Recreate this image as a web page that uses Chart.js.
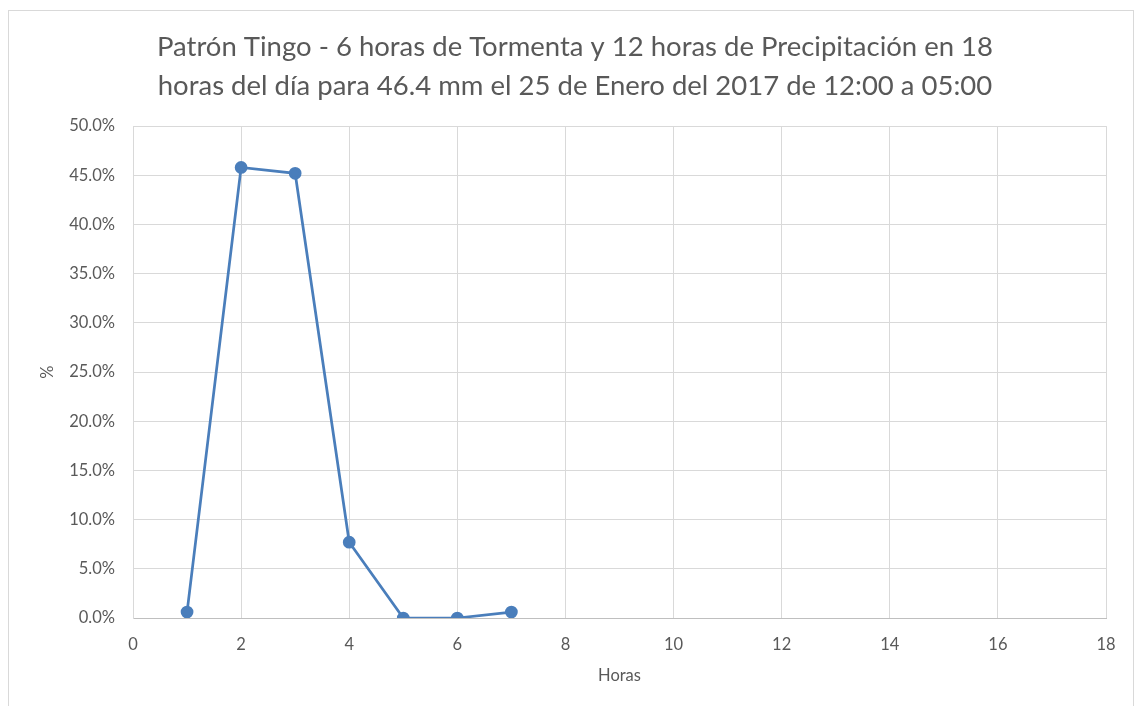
<!DOCTYPE html>
<html>
<head>
<meta charset="utf-8">
<script src="https://cdn.jsdelivr.net/npm/chart.js@4/dist/chart.umd.min.js"></script>
<style>
    html, body { margin: 0; padding: 0; background: #ffffff; }
    #wrap { position: relative; width: 1135px; height: 706px; }
</style>
</head>
<body>
<div id="wrap"><canvas id="patronGraph" width="1135" height="706"></canvas></div>
<script>
// Datos (porcentaje por hora)
const horas = [1, 2, 3, 4, 5, 6, 7];
const porcentaje = [0.6, 45.8, 45.2, 7.7, 0.0, 0.0, 0.6];
const tituloLineas = [
    'Patrón Tingo - 6 horas de Tormenta y 12 horas de Precipitación en 18',
    'horas del día para 46.4 mm el 25 de Enero del 2017 de 12:00 a 05:00'
];

const gris = '#595959';
const fuente = 'Lato, "Open Sans", sans-serif';

// Marco exterior del grafico (como en Excel)
const marco = {
    id: 'marco',
    beforeDraw(chart) {
        const c = chart.ctx;
        c.save();
        c.strokeStyle = '#d9d9d9';
        c.lineWidth = 1;
        c.strokeRect(8.5, 10.5, 1125, 720);
        c.restore();
    }
};

const ctx = document.getElementById('patronGraph').getContext('2d');
const patronGraph = new Chart(ctx, {
    type: 'scatter',
    data: {
        datasets: [{
            label: 'Patrón',
            data: horas.map((h, i) => ({ x: h, y: porcentaje[i] })),
            showLine: true,
            borderColor: '#4a7ebb',
            backgroundColor: '#4a7ebb',
            borderWidth: 2.75,
            pointRadius: 5,
            pointHoverRadius: 5,
            tension: 0
        }]
    },
    options: {
        responsive: false,
        animation: false,
        // padding izquierdo mayor para centrar el titulo como en Excel
        layout: { padding: { left: 44, right: 29, top: 28, bottom: 10 } },
        plugins: {
            legend: { display: false },
            tooltip: { enabled: false },
            title: {
                display: true,
                text: tituloLineas,
                color: gris,
                font: { family: fuente, size: 27.5, weight: 'normal', lineHeight: 1.42 },
                padding: { top: 0, bottom: 20 }
            }
        },
        scales: {
            x: {
                type: 'linear',
                min: 0,
                max: 18,
                ticks: { stepSize: 2, color: gris, font: { family: fuente, size: 16.5 }, padding: 17 },
                grid: { color: '#d9d9d9', drawTicks: false },
                border: { color: '#bfbfbf' },
                title: { display: true, text: 'Horas', color: gris, font: { family: fuente, size: 16.5 }, padding: { top: 8, bottom: 10 } },
                afterFit(scale) { scale.height = 78; }
            },
            y: {
                min: 0,
                max: 50,
                ticks: {
                    stepSize: 5,
                    color: gris,
                    font: { family: fuente, size: 16.5 },
                    padding: 18,
                    callback: v => v.toFixed(1) + '%'
                },
                grid: { color: '#d9d9d9', drawTicks: false },
                border: { color: '#d9d9d9' },
                title: { display: true, text: '%', color: gris, font: { family: fuente, size: 16.5 }, padding: { top: -6, bottom: 0 } },
                afterFit(scale) { scale.width = 89; }
            }
        }
    },
    plugins: [marco]
});
</script>
</body>
</html>
